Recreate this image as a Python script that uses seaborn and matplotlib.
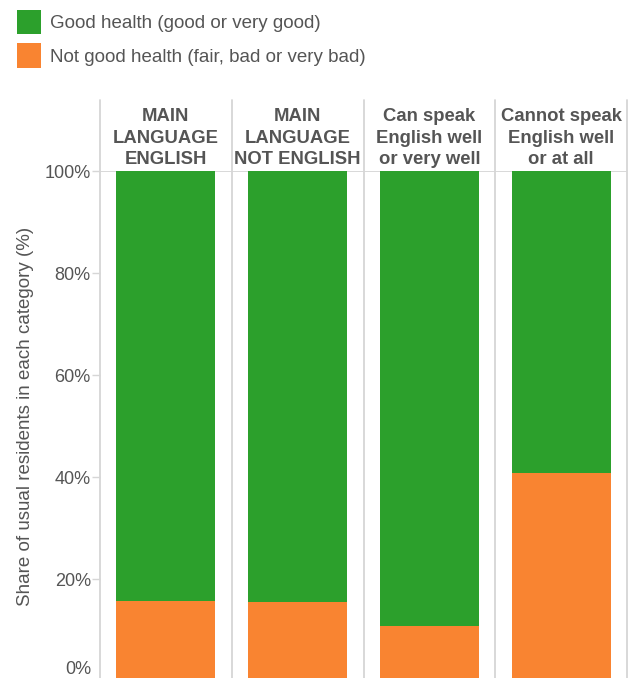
import matplotlib
matplotlib.use("Agg")
import matplotlib.pyplot as plt
import seaborn as sns
import pandas as pd
from matplotlib.patches import Patch

categories = ["MAIN\nLANGUAGE\nENGLISH", "MAIN\nLANGUAGE\nNOT ENGLISH",
              "Can speak\nEnglish well\nor very well", "Cannot speak\nEnglish well\nor at all"]
not_good = [15.7, 15.5, 10.8, 40.8]
good = [84.3, 84.5, 89.2, 59.2]
yticks = [0, 20, 40, 60, 80, 100]
legend_labels = ["Good health (good or very good)", "Not good health (fair, bad or very bad)"]

GREEN = "#2ca02c"
ORANGE = "#f98431"
TEXT = "#555555"
LINE = "#d6d6d6"

sns.set_theme(style="white")
plt.rcParams["font.family"] = ["Liberation Sans", "DejaVu Sans"]

df = pd.DataFrame({"category": categories, "good": good, "not_good": not_good})
df["total"] = df["good"] + df["not_good"]

fig = plt.figure(figsize=(6.34, 6.78), dpi=100)
ax = fig.add_axes([100 / 634, -3 / 678, 527 / 634, 510 / 678])

bar_kw = dict(width=0.75, saturation=1, ax=ax, order=categories, linewidth=0, edgecolor="none")
sns.barplot(data=df, x="category", y="total", color=GREEN, **bar_kw)
sns.barplot(data=df, x="category", y="not_good", color=ORANGE, **bar_kw)

ax.set_xlim(-0.5, len(categories) - 0.5)
ax.set_ylim(0, 100)
for s in ax.spines.values():
    s.set_visible(False)

# panel separators rising into the header band
for i in range(len(categories) + 1):
    ax.axvline(i - 0.5, ymin=0, ymax=(681 - 100) / 510, color=LINE, lw=1.3,
               clip_on=False, zorder=0)
ax.axhline(100, color=LINE, lw=1.3, zorder=0)

# panel headers
for i, c in enumerate(categories):
    ax.text(i, 100.5, c, ha="center", va="bottom", fontsize=13.3,
            fontweight="bold", color=TEXT, linespacing=1.38)

ax.set_xticks([])
ax.set_xlabel("")
ax.set_yticks(yticks)
ax.set_yticklabels([f"{t}%" if t > 0 else "" for t in yticks])
ax.tick_params(axis="y", left=True, length=5.8, width=1, color=LINE,
               labelsize=13, labelcolor=TEXT, pad=0.8)
ax.text(-0.5 - 9 / 131.75, 0.6, "0%", ha="right", va="bottom",
        fontsize=13, color=TEXT)

ax.set_ylabel("Share of usual residents in each category (%)", fontsize=13.5,
              color=TEXT)
ax.yaxis.set_label_coords(-0.126, (681 - 416.5) / 510)

handles = [Patch(facecolor=GREEN, edgecolor="none"), Patch(facecolor=ORANGE, edgecolor="none")]
fig.legend(handles, legend_labels, loc="upper left", bbox_to_anchor=(17 / 634, 1 - 10 / 678),
           frameon=False, fontsize=13.5, labelcolor=TEXT, handlelength=1.28,
           handleheight=1.6, handletextpad=0.48, labelspacing=0.5, borderpad=0,
           borderaxespad=0)

fig.savefig("out.png", dpi=100)
